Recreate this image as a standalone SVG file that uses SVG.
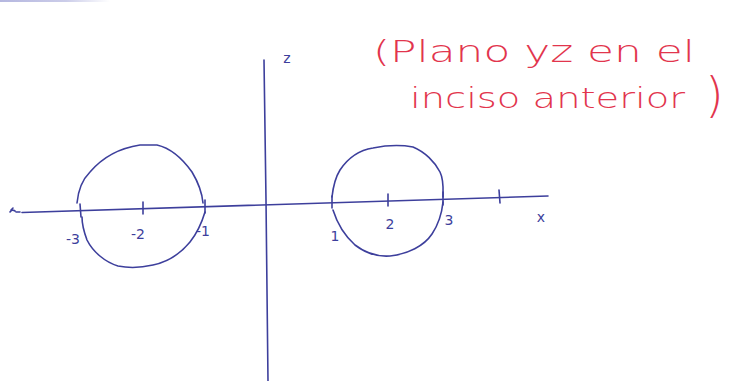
<svg xmlns="http://www.w3.org/2000/svg" width="736" height="381" viewBox="0 0 736 381">
<style>
.ink{fill:none;stroke:#3d3f9c;stroke-width:1.6;stroke-linecap:round;stroke-linejoin:round}
.lbl{font-family:"DejaVu Sans","Liberation Sans",sans-serif;font-size:14px;fill:#3d3f9c;text-anchor:middle}
.red{font-family:"DejaVu Sans","Liberation Sans",sans-serif;fill:#e2354d;font-weight:300}
</style>
<defs>
<linearGradient id="fade" x1="0" y1="0" x2="1" y2="0">
<stop offset="0" stop-color="#6b6fc0" stop-opacity="0.5"/>
<stop offset="0.6" stop-color="#6b6fc0" stop-opacity="0.35"/>
<stop offset="1" stop-color="#6b6fc0" stop-opacity="0"/>
</linearGradient>
</defs>
<rect width="736" height="381" fill="#ffffff"/>
<rect x="0" y="0" width="110" height="2" fill="url(#fade)"/>
<g id="axes">
<path class="ink" d="M264,60 L266,200 L268,381"/>
<path class="ink" d="M22,212.5 L548,196"/>
<path class="ink" d="M10,212 q2,-3 5,-1 M11,210 l2,-2 M16,212 l4,0" stroke-width="1.2"/>
<text class="lbl" x="287" y="63" font-size="16">z</text>
<text class="lbl" x="541" y="222" font-size="16">x</text>
</g>
<g id="ticks">
<path class="ink" d="M80,204 l1,13 M143,202 l0,12 M205,200 l0,13 M332,196 l0,12 M388,194 l0,12 M443,192 l0,13 M499,190 l1,13"/>
</g>
<g id="circle-left">
<path class="ink" d="M77,203 C78,192 82,180 90,172 C102,158 120,148 140,145 L157,145 C170,148 182,158 192,172 C198,182 202,192 203,203"/>
<path class="ink" d="M205,212 C202,222 198,232 190,242 C180,254 168,262 153,265 C140,268 128,268 118,266 C105,262 93,252 87,240 C84,232 82,224 82,217"/>
<text class="lbl" x="73" y="244">-3</text>
<text class="lbl" x="138" y="239">-2</text>
<text class="lbl" x="203" y="236">-1</text>
</g>
<g id="circle-right">
<path class="ink" d="M332,197 C333,188 335,178 340,170 C348,158 360,150 373,148 C388,145 402,145 413,147 C425,152 435,162 440,172 C444,180 443,190 443,197"/>
<path class="ink" d="M443,202 C442,212 440,222 432,234 C424,246 408,254 390,256 C376,257 364,252 355,245 C345,236 338,226 333,210"/>
<text class="lbl" x="335" y="241">1</text>
<text class="lbl" x="390" y="229">2</text>
<text class="lbl" x="449" y="225">3</text>
</g>
<g id="note">
<text class="red" x="373" y="62" font-size="30" textLength="322" lengthAdjust="spacingAndGlyphs">(Plano yz en el</text>
<text class="red" x="410" y="108" font-size="28" textLength="275" lengthAdjust="spacingAndGlyphs">inciso anterior</text>
<text class="red" x="705" y="112" font-size="48" font-weight="200">)</text>
</g>
</svg>
